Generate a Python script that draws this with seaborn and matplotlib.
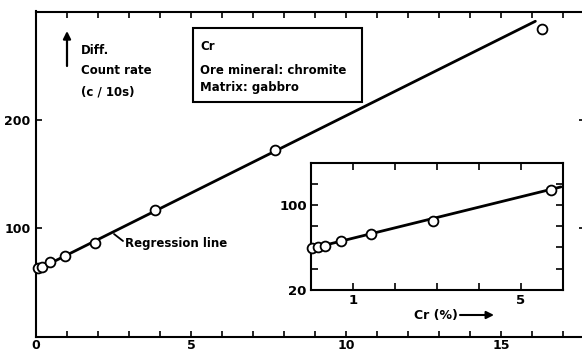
import matplotlib
matplotlib.use("Agg")
import matplotlib.pyplot as plt
from matplotlib.patches import Rectangle
from matplotlib.lines import Line2D
import seaborn as sns
import pandas as pd

# ---- data ----
cr_main = [0.06, 0.19, 0.45, 0.94, 1.9, 3.85, 7.7, 16.3]
rate_main = [63, 64, 69, 74, 86, 116.5, 172, 284]
reg_x = [0.0, 16.1]
reg_y = [61, 291]

cr_inset = [0.02, 0.17, 0.33, 0.71, 1.43, 2.9, 5.72]
rate_inset = [59.5, 60.5, 61.4, 66.1, 72.7, 85, 114]
inset_reg_x = [0.0, 5.95]
inset_reg_y = [59, 117]

main_xticks = [0, 5, 10, 15]
main_yticks = [100, 200]
inset_xticks = [1, 5]
inset_yticks = [20, 100]

sns.set_style("ticks")
plt.rcParams['font.family'] = ['DejaVu Sans']
plt.rcParams['font.weight'] = 'bold'
for k in ["text.color", "axes.labelcolor", "xtick.color", "ytick.color",
          "axes.edgecolor"]:
    plt.rcParams[k] = "black"

W, H = 582, 352
fig = plt.figure(figsize=(W / 100, H / 100), dpi=100)


def fp(x, y):
    return (x / W, 1 - y / H)


def box(l, t, r, b):
    return [l / W, 1 - b / H, (r - l) / W, (b - t) / H]


main_df = pd.DataFrame({"cr": cr_main, "rate": rate_main})
reg_df = pd.DataFrame({"cr": reg_x, "rate": reg_y})
inset_df = pd.DataFrame({"cr": cr_inset, "rate": rate_inset})
inset_reg_df = pd.DataFrame({"cr": inset_reg_x, "rate": inset_reg_y})

# ---- main axes ----
ax = fig.add_axes(box(36, 11.5, 585, 336.5))
sns.lineplot(data=reg_df, x="cr", y="rate", ax=ax, color="black", lw=2.0)
sns.scatterplot(data=main_df, x="cr", y="rate", ax=ax, s=50, facecolor="white",
                edgecolor="black", linewidth=1.3, zorder=5, clip_on=False)
ax.set_xlim(0, 17.7)
ax.set_ylim(0, 300)
ax.set_xticks(main_xticks)
ax.set_xticks(range(0, 18), minor=True)
ax.set_yticks(main_yticks)
ax.set_xlabel("")
ax.set_ylabel("")
ax.tick_params(axis="both", which="both", direction="in", length=4, width=1.2,
               top=True, right=True, labelsize=9, pad=1.5)
ax.tick_params(axis="y", pad=4)
for s in ax.spines.values():
    s.set_linewidth(1.5)

# ---- inset axes ----
ia = fig.add_axes(box(311, 163, 563, 290))
sns.lineplot(data=inset_reg_df, x="cr", y="rate", ax=ia, color="black", lw=2.0)
sns.scatterplot(data=inset_df, x="cr", y="rate", ax=ia, s=50, facecolor="white",
                edgecolor="black", linewidth=1.3, zorder=5, clip_on=False)
ia.set_xlim(0, 6.0)
ia.set_ylim(20, 139.5)
ia.set_xticks(inset_xticks)
ia.set_xticks(range(1, 6), minor=True)
ia.set_yticks(inset_yticks)
ia.set_yticks(range(20, 140, 20), minor=True)
ia.set_xlabel("")
ia.set_ylabel("")
ia.tick_params(axis="both", which="both", direction="in", length=5, width=1.2,
               top=True, right=True, labelsize=9.5, pad=3)
for s in ia.spines.values():
    s.set_linewidth(1.5)

# ---- annotations ----
tk = dict(fontsize=8.5, fontweight="bold", va="center", ha="left")
fig.text(*fp(81, 50), "Diff.", **tk)
fig.text(*fp(81, 70), "Count rate", **tk)
fig.text(*fp(81, 92), "(c / 10s)", **tk)
ax.annotate("", xy=fp(67, 31), xytext=fp(67, 66), xycoords="figure fraction",
            textcoords="figure fraction",
            arrowprops=dict(arrowstyle="-|>", lw=1.6, color="black",
                            mutation_scale=11, shrinkA=0, shrinkB=0))

fig.patches.append(Rectangle(fp(193, 102), (362 - 193) / W, (102 - 28) / H,
                             transform=fig.transFigure, fill=False,
                             lw=1.5, edgecolor="black"))
fig.text(*fp(200, 47), "Cr", **tk)
fig.text(*fp(200, 71), "Ore mineral: chromite", **tk)
fig.text(*fp(200, 87), "Matrix: gabbro", **tk)

fig.text(*fp(125, 243), "Regression line", **tk)
x0, y0 = fp(114, 234)
x1, y1 = fp(123, 241)
fig.add_artist(Line2D([x0, x1], [y0, y1], transform=fig.transFigure,
                      color="black", lw=1.3))

fig.text(*fp(414, 315), "Cr (%)", fontsize=9, fontweight="bold",
         va="center", ha="left")
ax.annotate("", xy=fp(494, 315), xytext=fp(460, 315), xycoords="figure fraction",
            textcoords="figure fraction",
            arrowprops=dict(arrowstyle="-|>", lw=1.5, color="black",
                            mutation_scale=11, shrinkA=0, shrinkB=0))

fig.savefig("out.png", dpi=100)
